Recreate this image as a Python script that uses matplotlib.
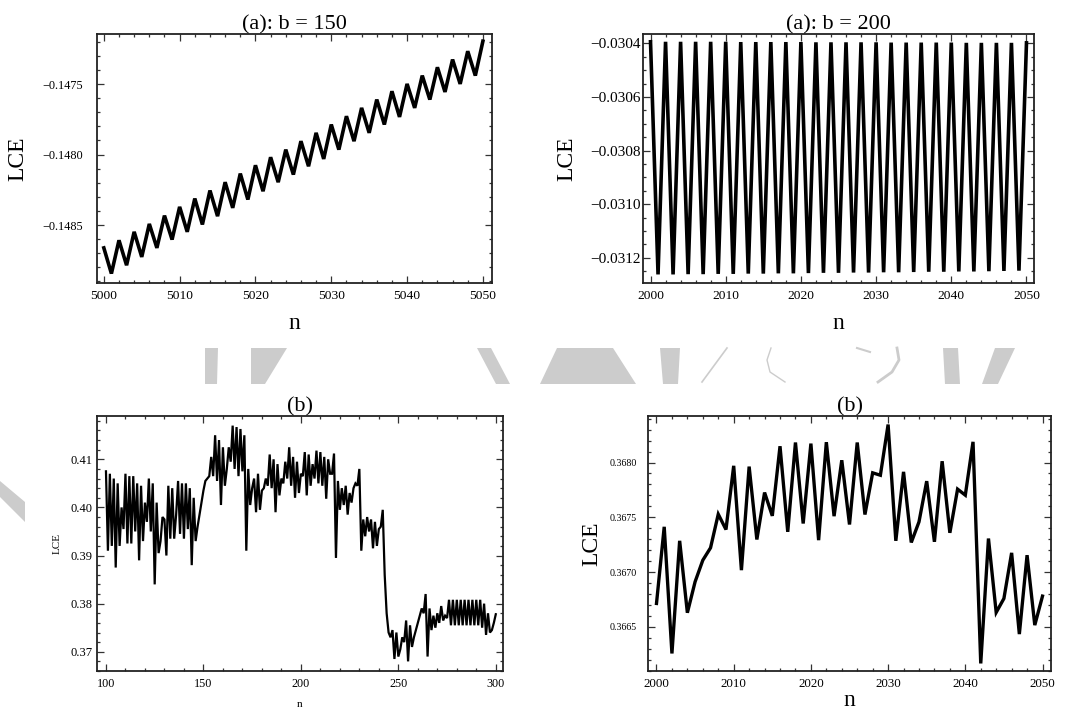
import numpy as np
import matplotlib
matplotlib.use('Agg')
import matplotlib.pyplot as plt
from matplotlib.patches import Polygon
from matplotlib.lines import Line2D
from matplotlib.ticker import MultipleLocator, FuncFormatter

plt.rcParams['font.family'] = ['Liberation Serif', 'DejaVu Serif']

FIG_W, FIG_H = 1066, 713

# ---- data ----
# (a): b = 150
n_a150 = np.arange(5000, 5051)
lce_a150 = [
    -0.148662, -0.148844, -0.148608, -0.148785, -0.148548, -0.148726, -0.148492, -0.148662,
    -0.148433, -0.148603, -0.148371, -0.148548, -0.148312, -0.148496, -0.148255, -0.148437,
    -0.148196, -0.148378, -0.148135, -0.148319, -0.148076, -0.148260, -0.148019, -0.148196,
    -0.147965, -0.148142, -0.147905, -0.148083, -0.147846, -0.148031, -0.147787, -0.147965,
    -0.147728, -0.147905, -0.147669, -0.147846, -0.147610, -0.147787, -0.147551, -0.147733,
    -0.147499, -0.147669, -0.147440, -0.147610, -0.147381, -0.147556, -0.147326, -0.147499,
    -0.147267, -0.147440, -0.147196,
]

# (a): b = 200
n_a200 = np.arange(2000, 2051)
lce_a200 = [
    -0.030394, -0.031262, -0.030394, -0.031262, -0.030394, -0.031261, -0.030394, -0.031261,
    -0.030394, -0.031260, -0.030394, -0.031260, -0.030395, -0.031259, -0.030395, -0.031259,
    -0.030395, -0.031258, -0.030395, -0.031258, -0.030395, -0.031257, -0.030396, -0.031256,
    -0.030396, -0.031256, -0.030396, -0.031255, -0.030396, -0.031255, -0.030396, -0.031254,
    -0.030397, -0.031254, -0.030397, -0.031253, -0.030397, -0.031252, -0.030397, -0.031252,
    -0.030397, -0.031251, -0.030398, -0.031251, -0.030398, -0.031250, -0.030398, -0.031249,
    -0.030398, -0.031248, -0.030398,
]

# (b) left, n = 100..300
n_b_left = np.arange(100, 301)
lce_b_left = [
    0.4075, 0.3910, 0.4070, 0.3920, 0.4060, 0.3875, 0.4050, 0.3920, 0.4000, 0.3955,
    0.4070, 0.3925, 0.4065, 0.3925, 0.4065, 0.3950, 0.4050, 0.3890, 0.4045, 0.3930,
    0.4010, 0.3970, 0.4060, 0.3950, 0.4050, 0.3840, 0.4010, 0.3905, 0.3930, 0.3980,
    0.3975, 0.3900, 0.4045, 0.3935, 0.4040, 0.3935, 0.3985, 0.4055, 0.3945, 0.4050,
    0.3935, 0.4050, 0.3955, 0.4040, 0.3880, 0.4020, 0.3930, 0.3960, 0.3985, 0.4010,
    0.4035, 0.4055, 0.4060, 0.4065, 0.4105, 0.4065, 0.4150, 0.4055, 0.4140, 0.4005,
    0.4125, 0.4045, 0.4080, 0.4125, 0.4095, 0.4170, 0.4080, 0.4167, 0.4065, 0.4163,
    0.4075, 0.4150, 0.3910, 0.4080, 0.4005, 0.4040, 0.4060, 0.3990, 0.4070, 0.3995,
    0.4035, 0.4040, 0.4060, 0.4045, 0.4110, 0.4040, 0.4100, 0.3990, 0.4090, 0.4025,
    0.4060, 0.4050, 0.4095, 0.4060, 0.4125, 0.4045, 0.4105, 0.4020, 0.4095, 0.4030,
    0.4070, 0.4065, 0.4115, 0.4025, 0.4110, 0.4045, 0.4090, 0.4060, 0.4118, 0.4050,
    0.4115, 0.4045, 0.4105, 0.4018, 0.4100, 0.4070, 0.4070, 0.4112, 0.3895, 0.4055,
    0.3995, 0.4040, 0.4005, 0.4045, 0.3985, 0.4030, 0.4010, 0.4040, 0.4050, 0.4045,
    0.4080, 0.3910, 0.3975, 0.3940, 0.3980, 0.3950, 0.3975, 0.3915, 0.3970, 0.3920,
    0.3955, 0.3960, 0.3995, 0.3860, 0.3780, 0.3740, 0.3730, 0.3745, 0.3685, 0.3740,
    0.3690, 0.3705, 0.3730, 0.3720, 0.3765, 0.3680, 0.3755, 0.3710, 0.3730, 0.3745,
    0.3760, 0.3775, 0.3790, 0.3780, 0.3820, 0.3690, 0.3790, 0.3745, 0.3775, 0.3750,
    0.3780, 0.3760, 0.3795, 0.3765, 0.3775, 0.3770, 0.3808, 0.3755, 0.3808, 0.3755,
    0.3808, 0.3755, 0.3808, 0.3755, 0.3808, 0.3755, 0.3808, 0.3755, 0.3808, 0.3755,
    0.3808, 0.3755, 0.3808, 0.3750, 0.3800, 0.3735, 0.3780, 0.3740, 0.3745, 0.3760,
    0.3778,
]

# (b) right, n = 2000..2050
n_b_right = np.arange(2000, 2051)
lce_b_right = [
    0.366713, 0.367413, 0.366256, 0.367285, 0.366628, 0.366911, 0.367108, 0.367221,
    0.367528, 0.367388, 0.367970, 0.367017, 0.367963, 0.367297, 0.367726, 0.367513,
    0.368149, 0.367367, 0.368183, 0.367443, 0.368173, 0.367291, 0.368186, 0.367510,
    0.368021, 0.367434, 0.368183, 0.367525, 0.367906, 0.367884, 0.368347, 0.367285,
    0.367915, 0.367270, 0.367458, 0.367830, 0.367276, 0.368012, 0.367358, 0.367757,
    0.367702, 0.368189, 0.366165, 0.367306, 0.366631, 0.366758, 0.367175, 0.366433,
    0.367154, 0.366515, 0.366780,
]


def px_rect(x0, y0, x1, y1):
    # pixel box (top-left origin) -> figure fraction rect
    return [x0 / FIG_W, 1 - y1 / FIG_H, (x1 - x0) / FIG_W, (y1 - y0) / FIG_H]


def px(x, y):
    return (x / FIG_W, 1 - y / FIG_H)


def minus_fmt(decimals):
    return FuncFormatter(lambda v, pos: ('%.*f' % (decimals, v)).replace('-', '\u2212'))


def make_panel(fig, box, n, lce, title, xlim, ylim, xsteps, ysteps, ydec,
               lw, xfs, yfs, ypad, labfs, ylab_x, xlab_y):
    ax = fig.add_axes(px_rect(*box))
    ax.plot(n, lce, color='black', lw=lw, solid_joinstyle='miter')
    ax.set_xlim(*xlim)
    ax.set_ylim(*ylim)

    ax.xaxis.set_major_locator(MultipleLocator(xsteps[0]))
    ax.xaxis.set_minor_locator(MultipleLocator(xsteps[1]))
    ax.yaxis.set_major_locator(MultipleLocator(ysteps[0]))
    ax.yaxis.set_minor_locator(MultipleLocator(ysteps[1]))
    ax.yaxis.set_major_formatter(minus_fmt(ydec))

    ax.tick_params(which='both', direction='in', top=True, right=True,
                   width=0.9, color='#333333')
    ax.tick_params(which='major', length=5)
    ax.tick_params(which='minor', length=2.5)
    ax.tick_params(axis='x', labelsize=xfs, pad=5)
    ax.tick_params(axis='y', labelsize=yfs, pad=ypad)
    for s in ax.spines.values():
        s.set_linewidth(1.3)
        s.set_color('#222222')

    ax.set_title(title, fontsize=16, pad=2)
    ax.set_ylabel('LCE', fontsize=labfs)
    ax.set_xlabel('n', fontsize=labfs)
    ax.yaxis.set_label_coords(ylab_x, 0.5)
    ax.xaxis.set_label_coords(0.5, xlab_y)
    return ax


def draw_watermark(fig):
    grey = '#cccccc'
    shapes = [
        [(205, 348), (218, 348), (217, 384), (205, 384)],
        [(251, 348), (287, 348), (265, 384), (251, 384)],
        [(477, 348), (491, 348), (510, 384), (496, 384)],
        [(557, 348), (613, 348), (636, 384), (540, 384)],
        [(660, 348), (680, 348), (678, 384), (663, 384)],
        [(943, 348), (958, 348), (960, 384), (945, 384)],
        [(995, 348), (1015, 348), (998, 384), (982, 384)],
        [(0, 481), (25, 502), (25, 522), (0, 497)],
    ]
    for pts in shapes:
        fig.patches.append(Polygon([px(x, y) for x, y in pts], closed=True,
                                   transform=fig.transFigure, facecolor=grey,
                                   edgecolor='none', zorder=0))
    strokes = [
        ([727, 702], [348, 382], 1.2),
        ([771, 767, 770, 785], [348, 360, 372, 382], 1.0),
        ([897, 899, 892, 878], [348, 360, 372, 382], 2.0),
        ([857, 870], [348, 352], 1.5),
    ]
    for xs, ys, w in strokes:
        fx = [x / FIG_W for x in xs]
        fy = [1 - y / FIG_H for y in ys]
        fig.lines.append(Line2D(fx, fy, transform=fig.transFigure,
                                color=grey, lw=w, zorder=0))


def main():
    fig = plt.figure(figsize=(FIG_W / 100, FIG_H / 100), dpi=100)
    draw_watermark(fig)

    make_panel(fig, (97, 34, 492, 283), n_a150, lce_a150, '(a): b = 150',
               (4999.1, 5051.2), (-0.148911, -0.147145), (10, 2), (0.0005, 0.0001), 4,
               lw=2.6, xfs=9.7, yfs=8.8, ypad=10, labfs=17, ylab_x=-0.175, xlab_y=-0.12)

    make_panel(fig, (643, 34, 1034, 283), n_a200, lce_a200, '(a): b = 200',
               (1999.0, 2051.0), (-0.031294, -0.030365), (10, 2), (0.0002, 0.00005), 4,
               lw=2.6, xfs=9.7, yfs=11, ypad=1.5, labfs=17, ylab_x=-0.169, xlab_y=-0.12)

    make_panel(fig, (97, 416, 503, 671), n_b_left, lce_b_left, '(b)',
               (95.4, 303.7), (0.366, 0.419), (50, 10), (0.01, 0.002), 2,
               lw=1.6, xfs=8.7, yfs=9, ypad=3, labfs=8, ylab_x=-0.086, xlab_y=-0.115)

    make_panel(fig, (648, 416, 1051, 671), n_b_right, lce_b_right, '(b)',
               (1998.9, 2051.1), (0.366096, 0.368425), (10, 2), (0.0005, 0.0001), 4,
               lw=2.4, xfs=9.3, yfs=7.2, ypad=8, labfs=17, ylab_x=-0.114, xlab_y=-0.075)

    fig.savefig('out.png', dpi=100)


if __name__ == '__main__':
    main()
